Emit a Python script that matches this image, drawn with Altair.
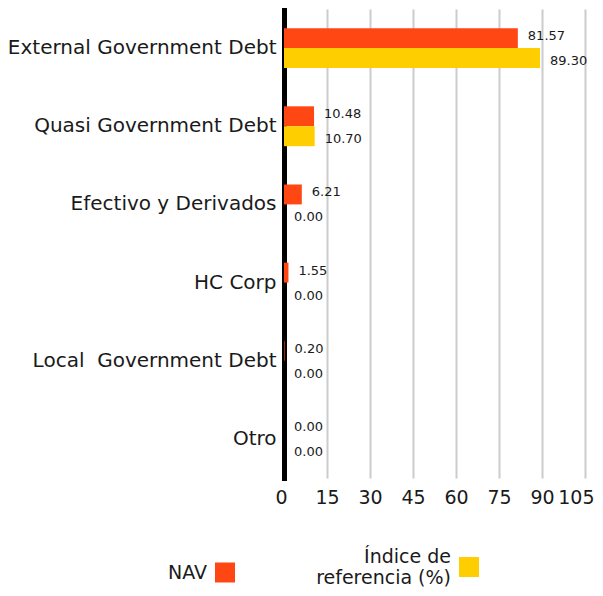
import altair as alt
import pandas as pd

categories = ["External Government Debt", "Quasi Government Debt", "Efectivo y Derivados",
              "HC Corp", "Local\u00a0 Government Debt", "Otro"]
series_names = ["NAV", "Índice de referencia (%)"]
nav_values = [81.57, 10.48, 6.21, 1.55, 0.20, 0.00]
bench_values = [89.30, 10.70, 0.00, 0.00, 0.00, 0.00]
x_ticks = [0, 15, 30, 45, 60, 75, 90, 105]
colors = ["#FF4713", "#FFCE00"]

rows = []
for c, n, b in zip(categories, nav_values, bench_values):
    rows.append({"cat": c, "series": series_names[0], "value": n})
    rows.append({"cat": c, "series": series_names[1], "value": b})
df = pd.DataFrame(rows)
df["label"] = df["value"].map(lambda v: f"{v:.2f}")

FONT = "DejaVu Sans"
TXT = "#1a1a1a"

y_enc = alt.Y("cat:N", sort=categories, title=None,
              scale=alt.Scale(paddingInner=0.49, paddingOuter=0.245),
              axis=alt.Axis(domain=True, domainColor="black", domainWidth=5, domainCap="square",
                            ticks=False, grid=False, labelFontSize=20, labelColor=TXT,
                            labelFont=FONT, labelPadding=8, labelLimit=400))
yoff = alt.YOffset("series:N", sort=series_names)
x_enc = alt.X("value:Q", title=None,
              scale=alt.Scale(domain=[0, 105], nice=False, zero=True),
              axis=alt.Axis(values=x_ticks, domain=False, ticks=False, grid=True,
                            gridColor="#cccccc", gridWidth=2, labelFontSize=19,
                            labelColor=TXT, labelFont=FONT, labelPadding=10,
                            labelFlush=True, labelFlushOffset=9))

base = alt.Chart(df)

bars = base.mark_bar().encode(
    y=y_enc, yOffset=yoff, x=x_enc,
    color=alt.Color("series:N", sort=series_names,
                    scale=alt.Scale(domain=series_names, range=colors),
                    legend=alt.Legend(
                        title=None, orient="none", direction="horizontal",
                        legendX=-69, legendY=548,
                        symbolType="square", symbolSize=400, symbolStrokeWidth=0,
                        symbolOpacity=1,
                        labelAlign="right", labelOffset={"expr": "-28"}, labelFontSize=19,
                        labelFont=FONT, labelColor=TXT,
                        labelBaseline={"expr": "datum.value == 'NAV' ? 'middle' : 'bottom'"},
                        columnPadding=81, labelLimit=300,
                        labelExpr="datum.label == 'NAV' ? 'NAV' : ['Índice de', 'referencia (%)']"))
)

text_nav = base.transform_filter(alt.datum.series == series_names[0]).mark_text(
    align="left", baseline="middle", dx=10, dy=-2, fontSize=13, font=FONT, color=TXT
).encode(y=y_enc, yOffset=yoff, x=x_enc, text="label:N")

text_bench = base.transform_filter(alt.datum.series == series_names[1]).mark_text(
    align="left", baseline="middle", dx=10, dy=3, fontSize=13, font=FONT, color=TXT
).encode(y=y_enc, yOffset=yoff, x=x_enc, text="label:N")

chart = alt.layer(bars, text_nav, text_bench).properties(
    width=301, height=469,
    autosize=alt.AutoSizeParams(type="none"),
    padding={"left": 276, "top": 1, "right": 10, "bottom": 110},
).configure_view(stroke=None)

chart.save("out.html", embed_options={"renderer": "svg", "actions": False})
